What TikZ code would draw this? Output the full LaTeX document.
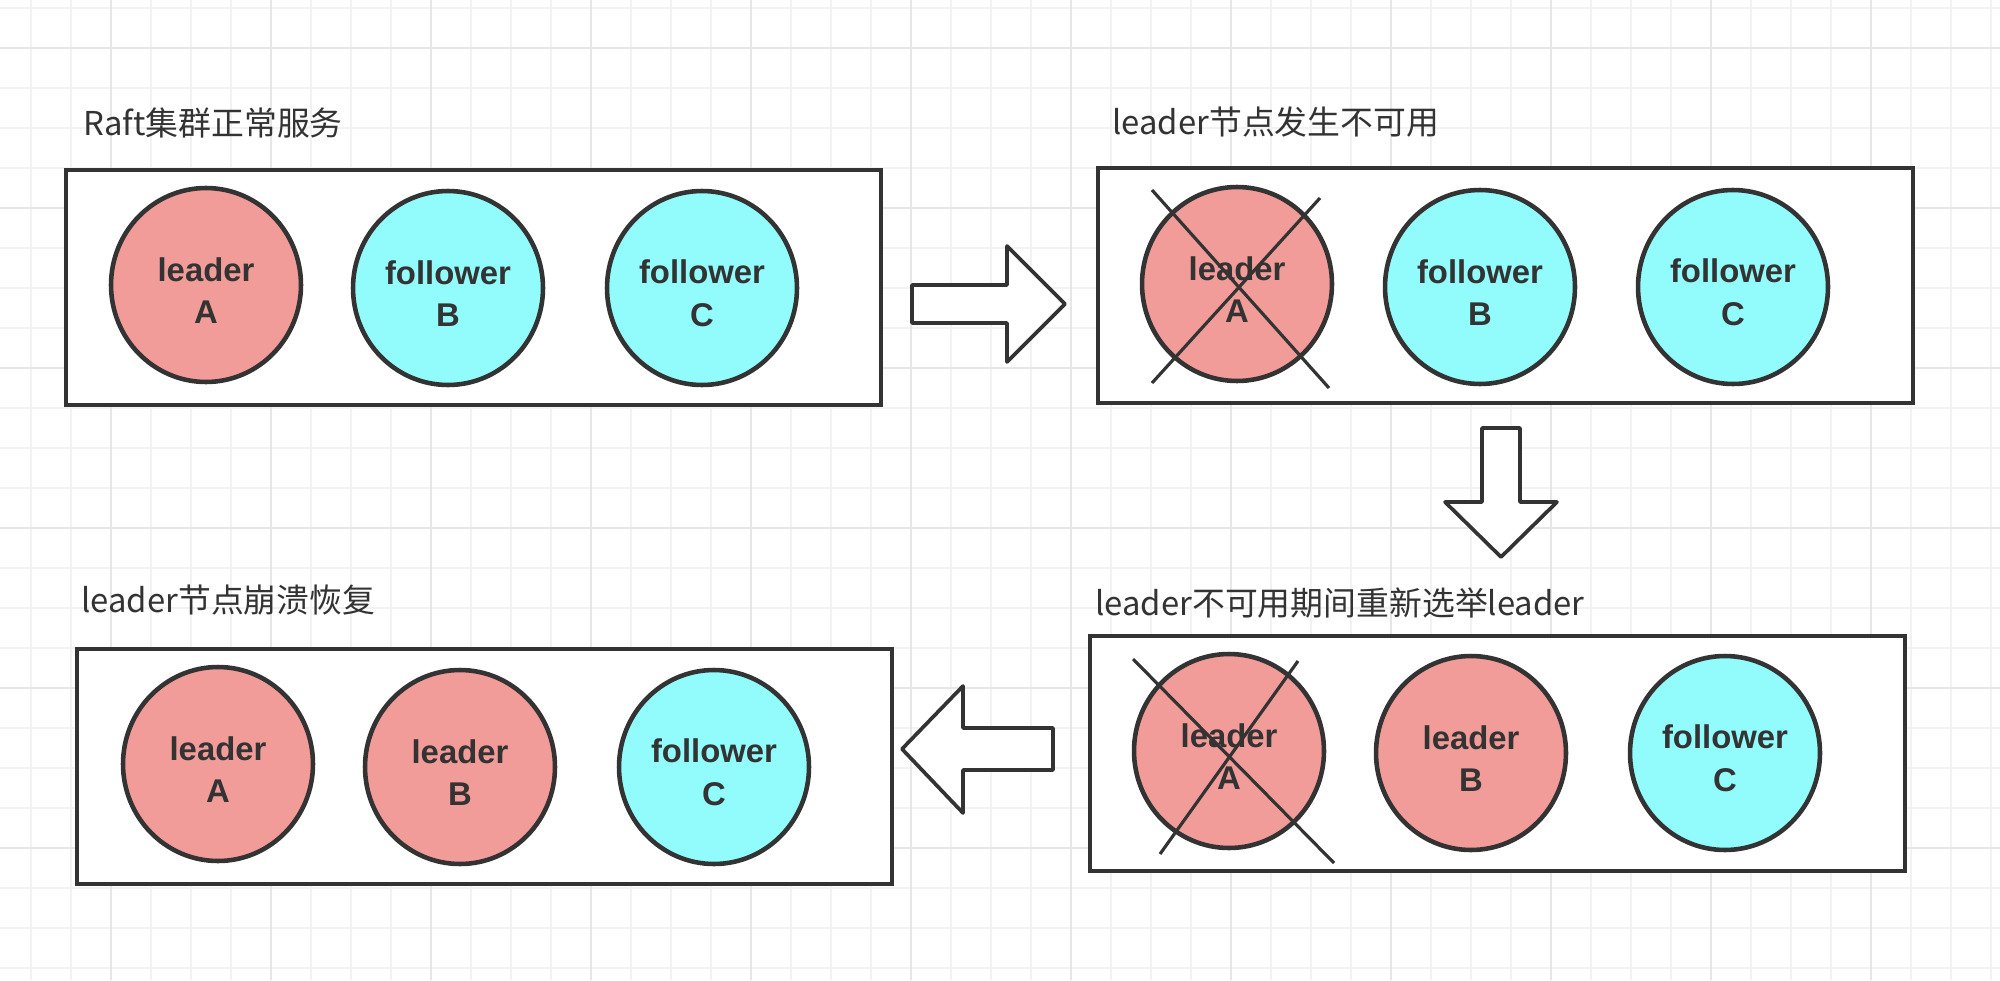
\documentclass[tikz,border=0pt]{standalone}
\usepackage{fontspec}
\setmainfont{Liberation Sans}
\newfontfamily\cjk{Noto Sans CJK SC}
\usetikzlibrary{shapes.geometric}

\definecolor{leaderred}{RGB}{241,156,153}
\definecolor{followercyan}{RGB}{146,252,252}
\definecolor{inkgray}{RGB}{51,51,51}
\definecolor{gridminor}{RGB}{242,242,242}
\definecolor{gridmajor}{RGB}{230,230,230}

% role on the first line, server name on the second
\newcommand{\srv}[2]{\rule{0pt}{19.5pt}#1\\#2}

\tikzset{
  panelbox/.style={draw=inkgray,line width=2.5pt,fill=white,anchor=north west,
    minimum width=16.3cm,minimum height=4.7cm,inner sep=0},
  server/.style={ellipse,draw=inkgray,line width=2.6pt,minimum width=3.8cm,
    minimum height=3.88cm,inner sep=0,align=center,text=inkgray,
    font=\fontsize{18.7}{24}\selectfont\bfseries},
  leadernode/.style={server,fill=leaderred},
  followernode/.style={server,fill=followercyan},
  paneltitle/.style={anchor=west,inner sep=0,text=inkgray,
    font=\cjk\fontsize{18.7}{22}\selectfont},
  crossline/.style={draw=inkgray,line width=1.8pt},
  blockarrow/.style={draw=inkgray,line width=2.1pt,fill=white,line join=round}
}

\begin{document}
\begin{tikzpicture}[x=0.02cm,y=-0.02cm]

\useasboundingbox (0,0) rectangle (2000,980);
\fill[white] (0,0) rectangle (2000,980);

% Grid
\foreach \gx in {31,71,...,1991}
  \draw[gridminor,line width=1pt] (\gx,0)--(\gx,980);
\foreach \gy in {8,48,...,968}
  \draw[gridminor,line width=1pt] (0,\gy)--(2000,\gy);
\foreach \gx in {111,271,...,1871}
  \draw[gridmajor,line width=1pt] (\gx,0)--(\gx,980);
\foreach \gy in {48,208,...,848}
  \draw[gridmajor,line width=1pt] (0,\gy)--(2000,\gy);

%====================================================
% Panel 1 : normal service
%====================================================
\node[paneltitle] (t1) at (83,123) {Raft集群正常服务};
\begin{scope}[shift={(64,168)}]

\node[panelbox] (box1) at (0,0) {};
\node[leadernode] (a1) at (142,117) {\srv{leader}{A}};
\node[followernode] (b1) at (384,120) {\srv{follower}{B}};
\node[followernode] (c1) at (638,120) {\srv{follower}{C}};

\end{scope}

%====================================================
% Panel 2 : leader unavailable
%====================================================
\node[paneltitle] (t2) at (1112,122) {leader节点发生不可用};
\begin{scope}[shift={(1096,166)}]

\node[panelbox] (box2) at (0,0) {};
\node[leadernode] (a2) at (141,118) {\srv{leader}{A}};
\node[followernode] (b2) at (384,121) {\srv{follower}{B}};
\node[followernode] (c2) at (637,121) {\srv{follower}{C}};

% Cross over A
\draw[crossline] (56,24)--(233,222);
\draw[crossline] (224,32)--(56,217);

\end{scope}

%====================================================
% Panel 3 : new election
%====================================================
\node[paneltitle] (t3) at (1095,603) {leader不可用期间重新选举leader};
\begin{scope}[shift={(1088,634)}]

\node[panelbox] (box3) at (0,0) {};
\node[leadernode] (a3) at (141,117) {\srv{leader}{A}};
\node[leadernode] (b3) at (383,119) {\srv{leader}{B}};
\node[followernode] (c3) at (637,119) {\srv{follower}{C}};

% Cross over A
\draw[crossline] (45,25)--(246,229);
\draw[crossline] (210,27)--(72,220);

\end{scope}

%====================================================
% Panel 4 : leader recovered
%====================================================
\node[paneltitle] (t4) at (81,600) {leader节点崩溃恢复};
\begin{scope}[shift={(75,647)}]

\node[panelbox] (box4) at (0,0) {};
\node[leadernode] (a4) at (143,117) {\srv{leader}{A}};
\node[leadernode] (b4) at (385,120) {\srv{leader}{B}};
\node[followernode] (c4) at (639,120) {\srv{follower}{C}};

\end{scope}

% Block arrows
% Panel 1 -> Panel 2
\draw[blockarrow] (912,285)--(1007,285)--(1007,246)--(1065,304)
  --(1007,362)--(1007,323)--(912,323)--cycle;

% Panel 2 -> Panel 3
\draw[blockarrow] (1482,428)--(1520,428)--(1520,502)--(1557,502)
  --(1501,557)--(1445,502)--(1482,502)--cycle;

% Panel 3 -> Panel 4
\draw[blockarrow] (1053,728)--(963,728)--(963,686)--(902,749)
  --(963,813)--(963,770)--(1053,770)--cycle;

\end{tikzpicture}
\end{document}
